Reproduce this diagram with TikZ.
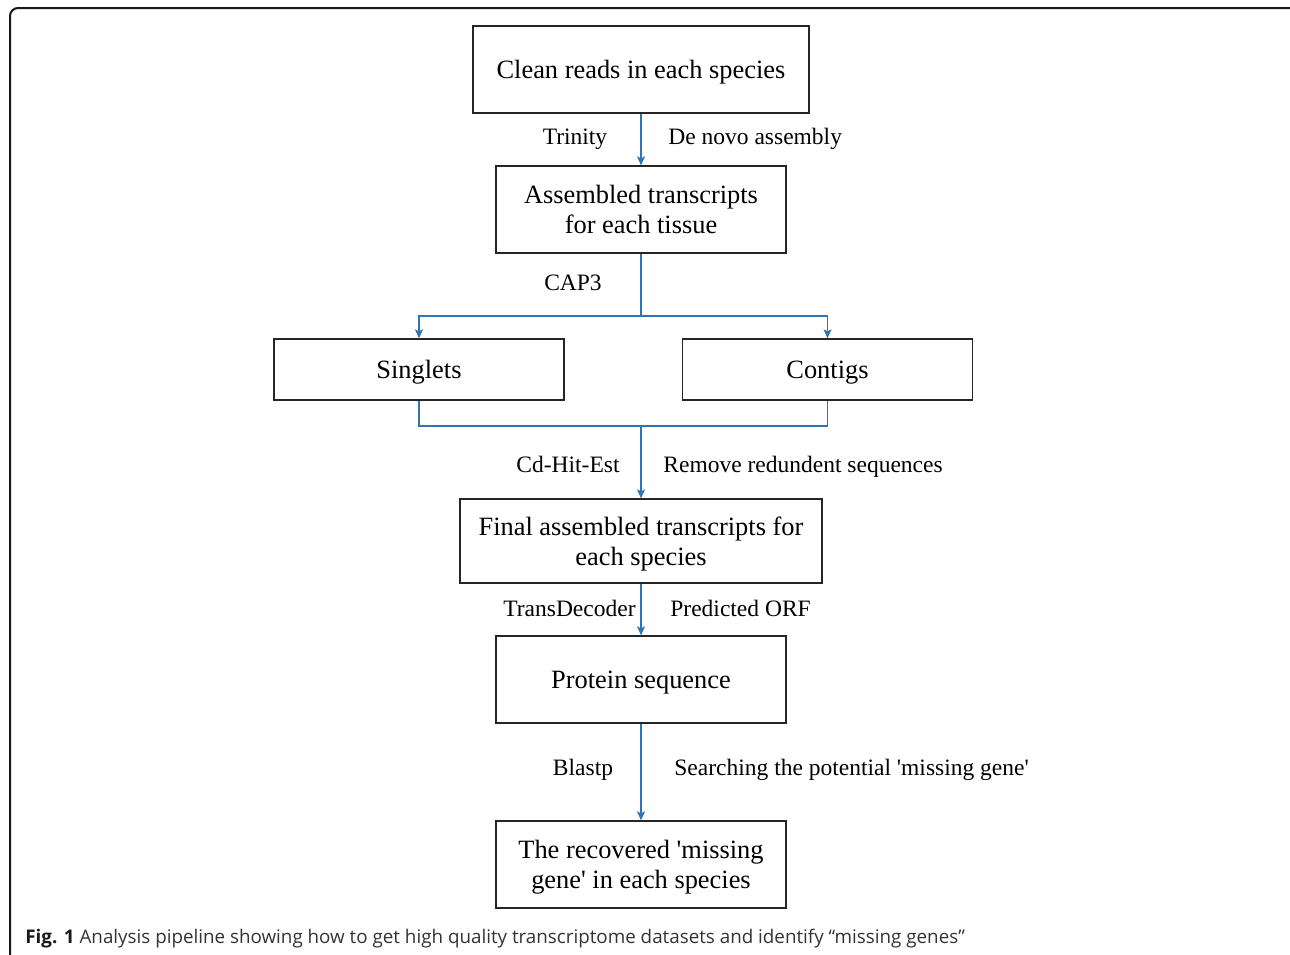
\documentclass[tikz,border=0pt]{standalone}
\usepackage{fontspec}
\setmainfont{Liberation Serif}[Ligatures=TeXOff]
\newfontfamily\capfont{Open Sans}
\usetikzlibrary{arrows.meta}
\definecolor{flowblue}{HTML}{2E75B6}
\definecolor{capgray}{HTML}{333333}
\tikzset{
  pbox/.style={draw=black!85, line width=0.65pt, align=center, inner sep=0pt,
    font=\fontsize{13.2pt}{15pt}\selectfont},
  onebox/.style={pbox, text depth=0pt},
  lbl/.style={inner sep=0pt, font=\fontsize{11.75pt}{14pt}\selectfont},
  flow/.style={draw=flowblue, line width=0.6pt},
  flowarr/.style={flow, -{Stealth[length=4.5pt,width=4pt,inset=1pt]}},
}
\begin{document}
\begin{tikzpicture}[x=0.5pt,y=-0.5pt]
\useasboundingbox (0,0) rectangle (1290,954);
\clip (0,0) rectangle (1290,954);
\draw[line width=1pt, black!90, rounded corners=4pt] (10,8) rectangle (1300,962);

\node[onebox, minimum width=168pt, minimum height=43.5pt] (clean) at (641,69.5) {Clean reads in each species};
\node[pbox, minimum width=145pt, minimum height=43.5pt] (asm) at (641,209.5) {Assembled transcripts\\for each tissue};
\node[onebox, minimum width=145pt, minimum height=30.5pt] (sing) at (419,369.5) {Singlets};
\node[onebox, minimum width=145pt, minimum height=30.5pt] (cont) at (827.5,369.5) {Contigs};
\node[onebox, minimum width=181pt, minimum height=42pt] (final) at (641,541) {Final assembled transcripts for\\each species};
\node[onebox, minimum width=145pt, minimum height=43.5pt] (prot) at (641,679.5) {Protein sequence};
\node[onebox, minimum width=145pt, minimum height=43.5pt] (rec) at (641,864.5) {The recovered 'missing\\gene' in each species};

\coordinate (split) at (641,316);
\coordinate (join) at (641,426);

\draw[flowarr] (clean.south) -- (asm.north);
\draw[flow] (asm.south) -- (split);
\draw[flowarr] (split) -| (sing.north);
\draw[flowarr] (split) -| (cont.north);
\draw[flow] (sing.south) |- (join);
\draw[flow] (cont.south) |- (join);
\draw[flowarr] (join) -- (final.north);
\draw[flowarr] (final.south) -- (prot.north);
\draw[flowarr] (prot.south) -- (rec.north);

\node[lbl, anchor=base] (l1) at (575,144) {Trinity};
\node[lbl, anchor=base west] (l2) at (668,144) {De novo assembly};
\node[lbl, anchor=base] (l3) at (573,290) {CAP3};
\node[lbl, anchor=base] (l4) at (568,472) {Cd-Hit-Est};
\node[lbl, anchor=base west] (l5) at (663,472) {Remove redundent sequences};
\node[lbl, anchor=base east] (l6) at (636,616) {TransDecoder};
\node[lbl, anchor=base west] (l7) at (670,616) {Predicted ORF};
\node[lbl, anchor=base] (l8) at (583,775) {Blastp};
\node[lbl, anchor=base west] (l9) at (674,775) {Searching the potential 'missing gene'};

\node[anchor=base west, inner sep=0pt, font=\capfont\fontsize{9.4pt}{11pt}\selectfont, text=capgray] (cap) at (25,943)
  {\textbf{\color{black!90}Fig. 1} Analysis pipeline showing how to get high quality transcriptome datasets and identify “missing genes”};
\end{tikzpicture}
\end{document}
